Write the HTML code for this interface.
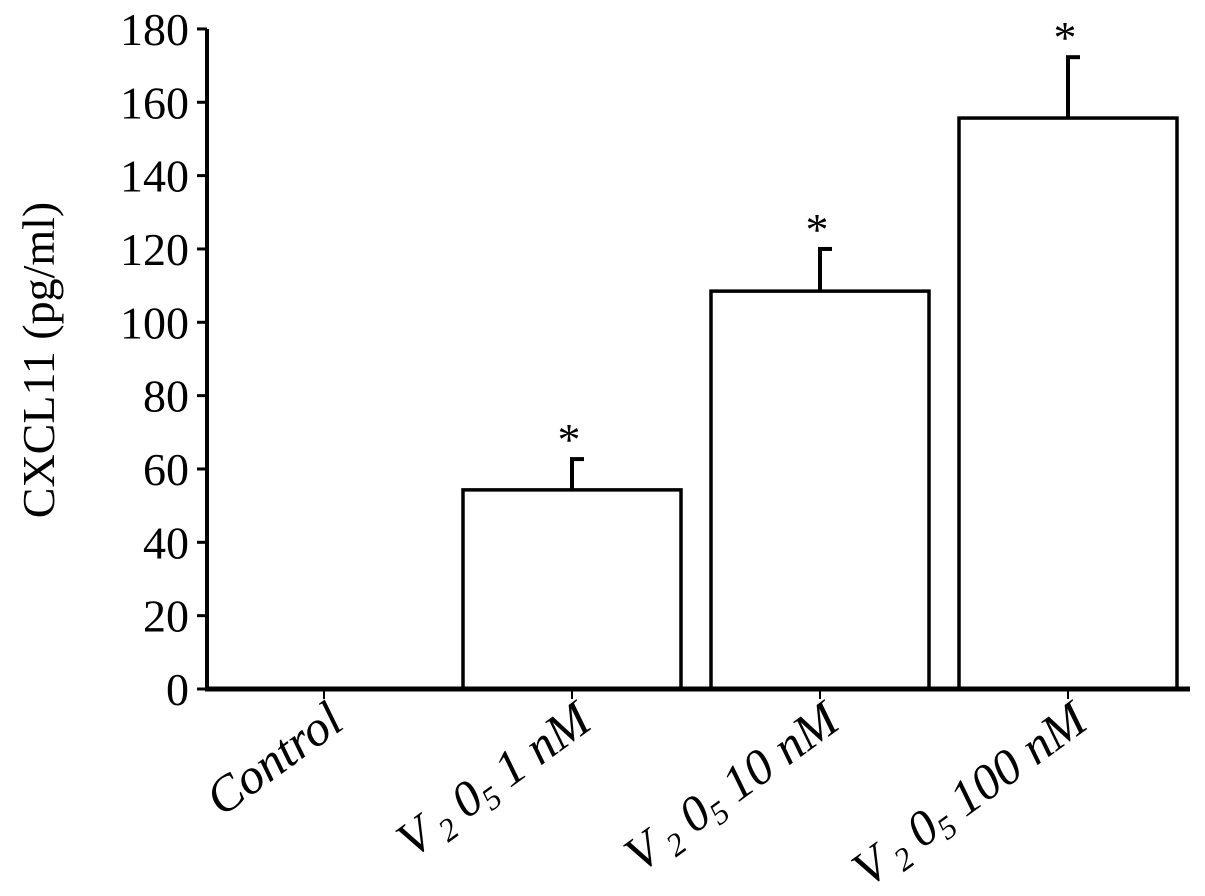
<!DOCTYPE html>
<html><head><meta charset="utf-8"><style>
body{margin:0;background:#fff}
svg text{font-family:"Liberation Serif",serif;fill:#000}
</style></head><body>
<svg width="1205" height="891">
<g id="g"></g>
</svg>
<script>
const categories=["Control","1 nM","10 nM","100 nM"];
const values=[0,54.3,108.5,155.7];
const errors=[0,8.4,11.5,16.6];
const yTicks=[0,20,40,60,80,100,120,140,160,180];
const NS="http://www.w3.org/2000/svg";
const g=document.getElementById('g');
const y0=689,pxU=3.667,x0=207,xEnd=1190,c0=324,band=248,bw=218;
const Y=v=>y0-v*pxU;
const X=i=>c0+i*band;
function el(t,a,p){const e=document.createElementNS(NS,t);for(const k in a)e.setAttribute(k,a[k]);(p||g).appendChild(e);return e;}
let ya=el('line',{x1:x0,y1:Y(180),x2:x0,y2:y0+2,stroke:'#000','stroke-width':4});


yTicks.forEach(t=>{
 let tk=el('line',{x1:x0-10,y1:Y(t),x2:x0,y2:Y(t),stroke:'#000','stroke-width':3});
 
 
 let tx=el('text',{x:x0-18,y:Y(t)+16,'text-anchor':'end','font-size':46});
 tx.textContent=t;
 
 
});
let yt=el('text',{transform:'translate(54,360) rotate(-90)','text-anchor':'middle','font-size':46});
yt.textContent='CXCL11 (pg/ml)';


values.forEach((v,i)=>{
 const cx=X(i);
 if(v>0){
  let e=el('line',{x1:cx,y1:Y(v),x2:cx,y2:Y(v+errors[i]),stroke:'#000','stroke-width':4});
  
  
  let c=el('line',{x1:cx-2,y1:Y(v+errors[i]),x2:cx+12,y2:Y(v+errors[i]),stroke:'#000','stroke-width':4});
  
  
  let b=el('rect',{x:cx-bw/2,y:Y(v),width:bw,height:y0-Y(v),fill:'#fff',stroke:'#000','stroke-width':3.5});
  
  
  let s=el('text',{x:cx-3,y:Y(v+errors[i])-4,'text-anchor':'middle','font-size':46});
  s.textContent='*';
  
  
 }
 let tk=el('line',{x1:cx,y1:y0,x2:cx,y2:y0+10,stroke:'#000','stroke-width':2});
 
 
 let tx=el('text',{transform:`translate(${cx+22},${y0+38}) rotate(-36)`,'text-anchor':'end','font-size':50,'font-style':'italic'});
 if(i===0){tx.textContent=categories[i];}
 else{
  tx.innerHTML='V<tspan font-size="32" dy="8"> 2</tspan><tspan dy="-8"> 0</tspan><tspan font-size="32" dy="8">5</tspan><tspan dy="-8"> '+categories[i]+'</tspan>';
 }
 
 
});
let xa=el('line',{x1:x0-2,y1:y0,x2:xEnd,y2:y0,stroke:'#000','stroke-width':5});


</script>
</body></html>
